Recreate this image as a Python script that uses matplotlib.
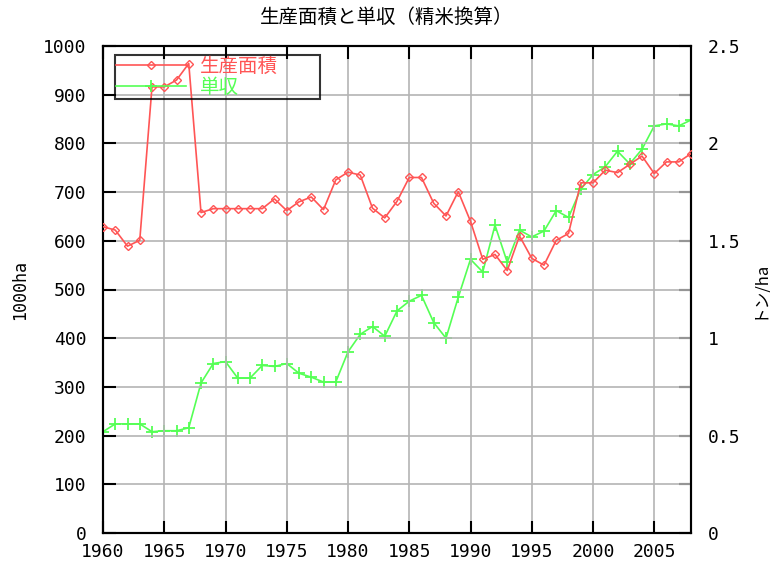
import numpy as np
import matplotlib
matplotlib.use('Agg')
import matplotlib.pyplot as plt

# data
years = np.arange(1960, 2009)

area = [629, 622, 589, 601, 916, 916, 930, 964, 658, 666,
        666, 666, 666, 666, 686, 662, 680, 690, 664, 725,
        741, 735, 667, 647, 681, 730, 730, 677, 651, 701,
        640, 562, 572, 539, 610, 564, 550, 601, 615, 719,
        719, 745, 740, 757, 774, 738, 762, 762, 779]

yld = [0.52, 0.56, 0.56, 0.56, 0.52, 0.525, 0.525, 0.54, 0.77, 0.87,
       0.88, 0.795, 0.795, 0.86, 0.855, 0.87, 0.82, 0.80, 0.775, 0.775,
       0.93, 1.02, 1.06, 1.01, 1.14, 1.19, 1.22, 1.08, 1.00, 1.21,
       1.405, 1.34, 1.58, 1.39, 1.555, 1.52, 1.55, 1.655, 1.62, 1.765,
       1.84, 1.88, 1.96, 1.895, 1.97, 2.09, 2.10, 2.09, 2.12]

xticks = np.arange(1960, 2006, 5)
yticks = np.arange(0, 1001, 100)
y2ticks = [0, 0.5, 1, 1.5, 2, 2.5]
y2labels = ['0', '0.5', '1', '1.5', '2', '2.5']

title = '生産面積と単収（精米換算）'
lab_area = '生産面積'
lab_yld = '単収'

red = '#ff5555'
green = '#55ff55'
jp = ['Noto Sans CJK JP', 'DejaVu Sans']
mono = 'DejaVu Sans Mono'

fig = plt.figure(figsize=(7.7, 5.63), dpi=100)
W, H = 588, 487
ax = fig.add_axes([103/770, 1-533/563, W/770, H/563])
ax2 = ax.twinx()

l1, = ax.plot(years, area, color=red, lw=1.2, marker='D', ms=4.5,
              mfc='none', mec=red, mew=1.0, label=lab_area, zorder=3)
l2, = ax2.plot(years, yld, color=green, lw=1.2, marker='+', ms=9,
               mew=1.3, label=lab_yld, zorder=3)

ax.set_xlim(1960, 2008)
ax.set_ylim(0, 1000)
ax2.set_ylim(0, 2.5)
ax.set_xticks(xticks)
ax.set_yticks(yticks)
ax2.set_yticks(y2ticks)
ax2.set_yticklabels(y2labels)
ax2.set_yticks(np.arange(0.25, 2.5, 0.5), minor=True)

ax.grid(True, color='#b4b4b4', lw=1.2)
ax.set_axisbelow(True)

for a in (ax, ax2):
    for s in a.spines.values():
        s.set_color('black')
        s.set_linewidth(1.5)

ax.tick_params(axis='both', direction='in', length=9, width=1.5,
               top=True, labelsize=13, pad=7)
ax.tick_params(axis='y', pad=12)
ax2.tick_params(axis='y', which='both', direction='in', length=9, width=1.5,
                labelsize=13, pad=12)
for t in ax.get_xticklabels() + ax.get_yticklabels() + ax2.get_yticklabels():
    t.set_fontfamily(mono)

ax.set_ylabel('1000ha', fontfamily=mono, fontsize=12)
ax.yaxis.set_label_coords((29-103)/W, 0.5)
ax2.set_ylabel('トン/ha', family=jp, fontsize=12)
ax2.yaxis.set_label_coords((750-103)/W, 0.5)

fig.text(0.502, 1-17/563, title, ha='center', va='center', family=jp, fontsize=14)

leg = ax.legend(handles=[l1, l2], loc='upper left', mode='expand',
                bbox_to_anchor=(12/W, (533-93)/H, (320-115)/W, (93-55)/H),
                prop={'family': jp, 'size': 14},
                labelcolor='linecolor', frameon=True, fancybox=False,
                handlelength=3.6, borderpad=0.05, labelspacing=0.0,
                handletextpad=0.7, borderaxespad=0)
leg.get_frame().set_edgecolor('black')
leg.get_frame().set_linewidth(1.5)
leg.get_frame().set_facecolor('none')
leg.set_zorder(5)
ax.set_zorder(ax2.get_zorder() + 1)
ax.patch.set_visible(False)
ax2.grid(False)

fig.savefig('out.png', dpi=100)
